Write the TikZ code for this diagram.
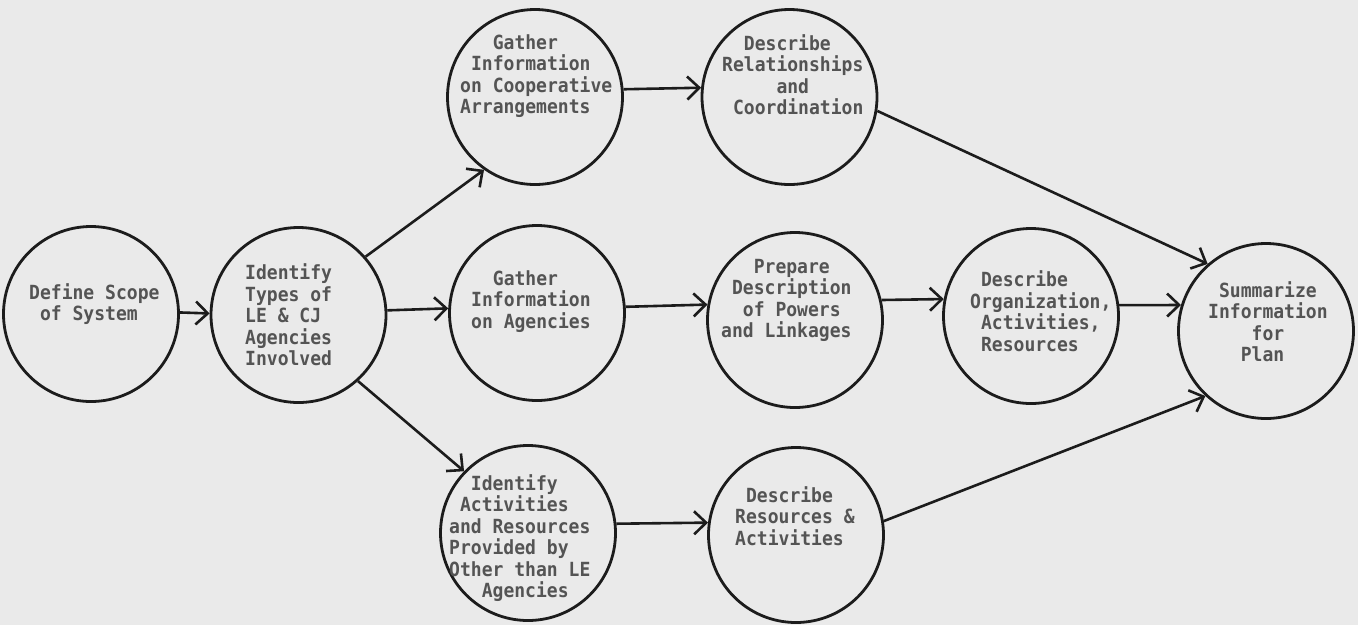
\documentclass[tikz,border=0pt]{standalone}
\usepackage{fontspec}
\usetikzlibrary{arrows.meta}
\newfontfamily\typewriter{DejaVu Sans Mono}[FakeStretch=0.925]
\definecolor{paper}{RGB}{234,234,234}
\definecolor{ink}{RGB}{28,28,28}
\definecolor{typeink}{RGB}{84,84,84}
% leading blanks, counted in monospace character widths
\newcommand\pad[1]{\hspace*{#1\fontcharwd\font`x\relax}}
\tikzset{
  stage/.style={circle, draw=ink, line width=2.8pt, minimum size=175pt, inner sep=0pt},
  caption/.style={anchor=west, align=left, inner sep=0pt, text=typeink,
    font=\typewriter\bfseries\fontsize{19.5}{21.5}\selectfont},
  flow/.style={draw=ink, line width=2.6pt,
    -{Straight Barb[length=12pt,width=23pt,line width=2.6pt]}}
}
\begin{document}
\begin{tikzpicture}[x=1pt,y=-1pt]
\fill[paper] (0,0) rectangle (1358,625);
\useasboundingbox (0,0) rectangle (1358,625);

% stages
\node[stage] (c1)  at (91,314)    {};
\node[stage] (c2)  at (298.5,315) {};
\node[stage] (c3)  at (535,97)    {};
\node[stage] (c4)  at (789.5,97)  {};
\node[stage] (c5)  at (537,313)   {};
\node[stage] (c6)  at (795,320)   {};
\node[stage] (c7)  at (1031,316)  {};
\node[stage] (c8)  at (1266,331)  {};
\node[stage] (c9)  at (528,533)   {};
\node[stage] (c10) at (796,535)   {};

% typed labels
\node[caption] (t1)  at (29,304)    {Define Scope\\\pad1of System};
\node[caption] (t2)  at (245,315)   {Identify\\Types of\\LE \& CJ\\Agencies\\Involved};
\node[caption] (t3)  at (460,76)    {\pad3Gather\\\pad1Information\\on Cooperative\\Arrangements};
\node[caption] (t4)  at (722,74.5)  {\pad2Describe\\Relationships\\\pad5and\\\pad1Coordination};
\node[caption] (t5)  at (471,301.5) {\pad2Gather\\Information\\on Agencies};
\node[caption] (t6)  at (721,300.5) {\pad3Prepare\\\pad1Description\\\pad2of Powers\\and Linkages};
\node[caption] (t7)  at (970,311)   {\pad1Describe\\Organization,\\\pad1Activities,\\\pad1Resources};
\node[caption] (t8)  at (1208,321.5){\pad1Summarize\\Information\\\pad4for\\\pad3Plan};
\node[caption] (t9)  at (449,538)   {\pad2Identify\\\pad1Activities\\and Resources\\Provided by\\Other than LE\\\pad3Agencies};
\node[caption] (t10) at (735,516)   {\pad1Describe\\Resources \&\\Activities};

% flow between stages
\draw[flow] (c1.1)     -- (c2.179);
\draw[flow] (c2.41.5)  -- (c3.235);
\draw[flow] (c2.3.9)   -- (c5.177.4);
\draw[flow] (c2.-48.7) -- (c9.136);
\draw[flow] (c3.5.8)   -- (c4.174.2);
\draw[flow] (c5.4.5)   -- (c6.170.9);
\draw[flow] (c6.13)    -- (c7.169.6);
\draw[flow] (c7.7.1)   -- (c8.163);
\draw[flow] (c4.-9.7)  -- (c8.131.9);
\draw[flow] (c9.6.4)   -- (c10.172.2);
\draw[flow] (c10.9.8)  -- (c8.227.8);
\end{tikzpicture}
\end{document}
